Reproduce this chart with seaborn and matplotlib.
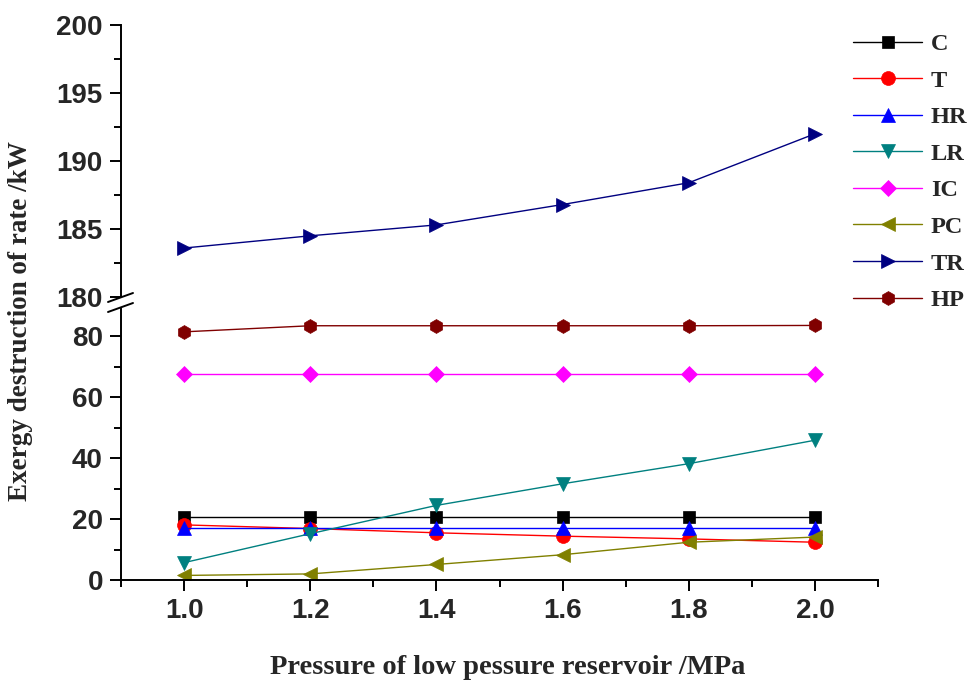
import numpy as np
import pandas as pd
import matplotlib
matplotlib.use("Agg")
import matplotlib.pyplot as plt
from matplotlib.lines import Line2D
from matplotlib.font_manager import FontProperties
import seaborn as sns

# Low-pressure reservoir pressure (MPa)
pressure = [1.0, 1.2, 1.4, 1.6, 1.8, 2.0]

# Exergy destruction rate of each component (kW)
C = [20.6, 20.6, 20.6, 20.6, 20.6, 20.6]
T = [18.1, 16.9, 15.5, 14.4, 13.5, 12.4]
HR = [17.2, 17.2, 17.2, 17.2, 17.2, 17.2]
LR = [5.7, 15.2, 24.5, 31.6, 38.2, 45.9]
IC = [67.8, 67.8, 67.8, 67.8, 67.8, 67.8]
PC = [1.5, 2.0, 5.1, 8.3, 12.4, 14.1]
TR = [183.6, 184.5, 185.3, 186.8, 188.4, 192.0]
HP = [81.5, 83.5, 83.5, 83.5, 83.5, 83.6]

components = ["C", "T", "HR", "LR", "IC", "PC", "TR", "HP"]
series = {"C": C, "T": T, "HR": HR, "LR": LR, "IC": IC, "PC": PC, "TR": TR, "HP": HP}

colors = {"C": "#000000", "T": "#FF0000", "HR": "#0000FF", "LR": "#008080",
          "IC": "#FF00FF", "PC": "#808000", "TR": "#000080", "HP": "#800000"}
markers = {"C": "s", "T": "o", "HR": "^", "LR": "v",
           "IC": "D", "PC": "<", "TR": ">", "HP": "h"}
msize = {"C": 9, "T": 10, "HR": 10, "LR": 10, "IC": 8, "PC": 10, "TR": 10, "HP": 10}

df = pd.DataFrame(
    [(p, comp, v) for comp in components for p, v in zip(pressure, series[comp])],
    columns=["pressure", "component", "rate"],
)

sns.set_theme(style="ticks")
plt.rcParams["font.family"] = ["Liberation Sans", "DejaVu Sans"]

W, H = 972, 686
fig = plt.figure(figsize=(W / 100, H / 100), dpi=100)

left, right = 121 / W, 878 / W
ax_top = fig.add_axes([left, 1 - 297 / H, right - left, (297 - 25) / H])
ax_bot = fig.add_axes([left, 1 - 580 / H, right - left, (580 - 309) / H])

for ax in (ax_top, ax_bot):
    sns.lineplot(data=df, x="pressure", y="rate", hue="component", style="component",
                 hue_order=components, style_order=components,
                 palette=colors, markers=markers, dashes=False,
                 linewidth=1.0, ax=ax, legend=False)
    for line, comp in zip(ax.get_lines(), components):
        line.set_markeredgecolor(colors[comp])
        line.set_markeredgewidth(0.5)
        line.set_markersize(msize[comp])
        line.set_clip_on(True)
    ax.set_xlabel("")
    ax.set_ylabel("")
    ax.set_xlim(0.9, 2.1)

tick_font = FontProperties(family="Liberation Sans", weight="bold", size=20)

# Upper part of the broken axis
ax_top.set_ylim(180, 200)
ax_top.set_yticks(np.arange(180, 201, 5))
ax_top.set_yticks(np.arange(182.5, 200, 5), minor=True)
ax_top.spines[["top", "right", "bottom"]].set_visible(False)
ax_top.tick_params(axis="x", which="both", bottom=False, labelbottom=False)

# Lower part of the broken axis
ax_bot.set_ylim(0, 89)
ax_bot.set_yticks([0, 20, 40, 60, 80])
ax_bot.set_yticks([10, 30, 50, 70], minor=True)
ax_bot.set_xticks(pressure)
ax_bot.set_xticks(np.arange(0.9, 2.15, 0.2), minor=True)
ax_bot.xaxis.set_major_formatter(matplotlib.ticker.FormatStrFormatter("%.1f"))
ax_bot.spines[["top", "right"]].set_visible(False)

for ax in (ax_top, ax_bot):
    for sp in ax.spines.values():
        sp.set_linewidth(1.4)
        sp.set_color("black")
    ax.tick_params(which="major", direction="out", length=8, width=1.4, color="black", pad=5)
    ax.tick_params(which="minor", direction="out", length=5, width=1.4, color="black")
    for lab in ax.get_yticklabels() + ax.get_xticklabels():
        lab.set_fontproperties(tick_font)

# Break marks on the y axis
x0 = left - 13 / W
x1 = left + 12 / W
for yb in (302, 312):
    fig.add_artist(Line2D([x0, x1], [1 - yb / H, 1 - (yb - 9) / H],
                          color="black", lw=1.4, transform=fig.transFigure))

fig.text(0.522, 1 - 667 / H, "Pressure of low pessure reservoir /MPa",
         ha="center", va="center", family="Liberation Serif", weight="bold", size=20.5)
fig.text(0.021, 1 - 321 / H, "Exergy destruction of rate /kW",
         ha="center", va="center", rotation=90,
         family="Liberation Serif", weight="bold", size=19.5)

handles = [Line2D([], [], color=colors[c], marker=markers[c], markersize=msize[c],
                  markeredgecolor=colors[c], markeredgewidth=0.5, lw=1.0)
           for c in components]
fig.legend(handles, components, loc="upper left", bbox_to_anchor=(853 / W, 1 - 33 / H),
           frameon=False, handlelength=2.85, handletextpad=0.35, labelspacing=0.6,
           borderaxespad=0, borderpad=0,
           prop=FontProperties(family="Liberation Serif", weight="bold", size=17.5))

fig.savefig("out.png", dpi=100)
